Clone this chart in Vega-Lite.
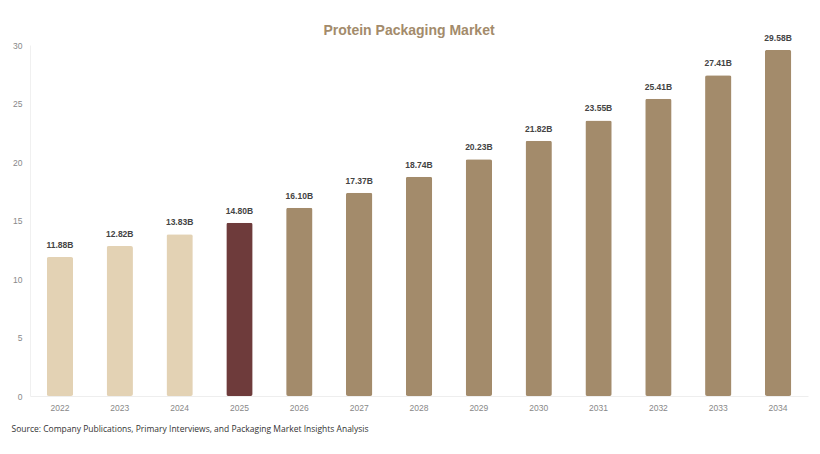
{
  "$schema": "https://vega.github.io/schema/vega-lite/v6.json",
  "width": 778,
  "height": 351,
  "autosize": {"type": "none"},
  "padding": {"left": 30, "top": 45, "right": 12, "bottom": 58},
  "background": "#ffffff",
  "config": {"view": {"stroke": null}, "font": "Liberation Sans"},
  "title": {
    "text": "Protein Packaging Market",
    "fontSize": 14,
    "fontWeight": "bold",
    "color": "#A38B6B",
    "font": "Liberation Sans",
    "anchor": "middle",
    "dx": -10,
    "offset": -4
  },
  "data": {
    "values": [
      {"year": "2022", "value": 11.88, "label": "11.88B", "phase": "Historical"},
      {"year": "2023", "value": 12.82, "label": "12.82B", "phase": "Historical"},
      {"year": "2024", "value": 13.83, "label": "13.83B", "phase": "Historical"},
      {"year": "2025", "value": 14.80, "label": "14.80B", "phase": "Base"},
      {"year": "2026", "value": 16.10, "label": "16.10B", "phase": "Forecast"},
      {"year": "2027", "value": 17.37, "label": "17.37B", "phase": "Forecast"},
      {"year": "2028", "value": 18.74, "label": "18.74B", "phase": "Forecast"},
      {"year": "2029", "value": 20.23, "label": "20.23B", "phase": "Forecast"},
      {"year": "2030", "value": 21.82, "label": "21.82B", "phase": "Forecast"},
      {"year": "2031", "value": 23.55, "label": "23.55B", "phase": "Forecast"},
      {"year": "2032", "value": 25.41, "label": "25.41B", "phase": "Forecast"},
      {"year": "2033", "value": 27.41, "label": "27.41B", "phase": "Forecast"},
      {"year": "2034", "value": 29.58, "label": "29.58B", "phase": "Forecast"}
    ]
  },
  "encoding": {
    "x": {
      "field": "year",
      "type": "ordinal",
      "scale": {"paddingInner": 0.56, "paddingOuter": 0.28},
      "axis": {
        "title": "Source: Company Publications, Primary Interviews, and Packaging Market Insights Analysis",
        "titleFont": "Open Sans",
        "titleFontSize": 8.5,
        "titleFontWeight": "normal",
        "titleColor": "#333333",
        "titleAnchor": "start",
        "titleAlign": "left",
        "titleX": -19,
        "titleY": 28,
        "labelAngle": 0,
        "labelColor": "#888888",
        "labelFontSize": 8.5,
        "labelPadding": 7,
        "ticks": false,
        "domainColor": "#eeeeee",
        "grid": false
      }
    },
    "y": {
      "field": "value",
      "type": "quantitative",
      "scale": {"domain": [0, 30], "nice": false},
      "axis": {
        "title": null,
        "values": [0, 5, 10, 15, 20, 25, 30],
        "labelColor": "#888888",
        "labelFontSize": 8.5,
        "labelPadding": 8,
        "ticks": false,
        "domainColor": "#f0f0f0",
        "grid": false
      }
    }
  },
  "layer": [
    {
      "mark": {"type": "bar", "cornerRadius": 2},
      "encoding": {
        "color": {
          "field": "phase",
          "type": "nominal",
          "scale": {"domain": ["Historical", "Base", "Forecast"], "range": ["#E3D2B4", "#6E3B3B", "#A38B6B"]},
          "legend": null
        }
      }
    },
    {
      "mark": {"type": "text", "baseline": "bottom", "dy": -7, "fontSize": 8.5, "fontWeight": "bold", "color": "#444444"},
      "encoding": {"text": {"field": "label"}}
    }
  ]
}
